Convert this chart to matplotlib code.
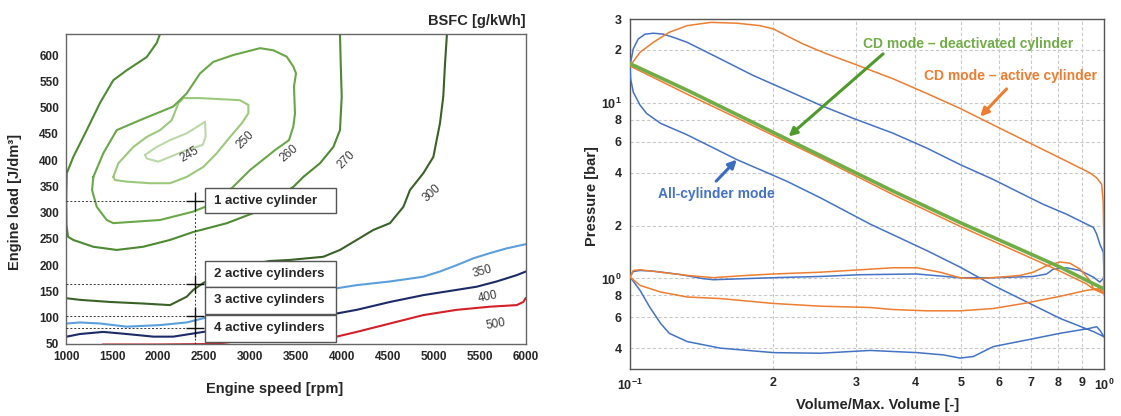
import matplotlib.pyplot as plt
from matplotlib.patches import Rectangle

plt.rcParams['font.family'] = ['Liberation Sans', 'DejaVu Sans']
plt.rcParams['mathtext.fontset'] = 'custom'
plt.rcParams['mathtext.rm'] = 'Liberation Sans'
plt.rcParams['mathtext.bf'] = 'Liberation Sans:bold'

# ---------------- left: BSFC map, iso-lines ----------------
c245_rpm = [1859, 1986, 2130, 2312, 2457, 2511, 2518, 2486, 2312, 2130, 2003, 1877, 1859]
c245_load = [410, 425, 438, 451, 467, 473, 445, 429, 419, 406, 397, 403, 410]

c250_rpm = [1514, 1569, 1732, 1877, 2022, 2149, 2221, 2275, 2457, 2891, 2982, 2982, 2910,
            2783, 2638, 2493, 2312, 2130, 1913, 1660, 1533, 1514]
c250_load = [368, 394, 425, 444, 457, 476, 508, 518, 518, 514, 505, 489, 470,
             444, 413, 387, 368, 356, 356, 359, 362, 368]

c260_rpm = [1297, 1405, 1551, 1804, 1986, 2166, 2312, 2457, 2601, 2819, 3109, 3253, 3398,
            3471, 3500, 3478, 3489, 3471, 3424, 3272, 3000, 2804, 2511, 2384, 2022, 1514,
            1442, 1334, 1283, 1297]
c260_load = [368, 413, 457, 476, 489, 502, 527, 565, 587, 600, 613, 609, 597,
             578, 565, 540, 489, 464, 438, 419, 381, 347, 311, 302, 286, 280,
             286, 311, 343, 368]

c270_rpm = [2022, 1986, 1877, 1660, 1514, 1370, 1225, 1079, 1008, 1002, 1005, 1022, 1079,
            1297, 1551, 1837, 2130, 2380, 2750, 3033, 3250, 3471, 3580, 3761, 3906,
            3978, 3997, 3986, 3978]
c270_load = [640, 623, 596, 571, 552, 509, 457, 406, 375, 324, 276, 254, 248,
             235, 229, 235, 248, 263, 280, 299, 325, 349, 368, 394, 425,
             457, 521, 585, 640]

c300_rpm = [5141, 5120, 5101, 5065, 4993, 4884, 4739, 4667, 4522, 4340, 4160, 3978, 3797,
            3435, 3217, 2800, 2492, 2384, 2312, 2130, 1840, 1478, 1152, 1008]
c300_load = [640, 584, 521, 470, 406, 375, 343, 311, 280, 267, 248, 229, 216,
             210, 208, 195, 166, 153, 140, 124, 127, 130, 134, 137]

c350_rpm = [1008, 1152, 1370, 1660, 2022, 2312, 2493, 3200, 3942, 4160, 4522, 4884, 5065,
            5247, 5427, 5609, 5790, 6000]
c350_load = [89, 91, 89, 83, 86, 91, 99, 128, 156, 162, 169, 178, 188,
             200, 213, 223, 232, 240]

c400_rpm = [1008, 1152, 1405, 1660, 1949, 2166, 2384, 2493, 3200, 3942, 4160, 4522, 4884,
            5247, 5464, 5681, 5899, 6000]
c400_load = [64, 69, 73, 69, 64, 64, 70, 73, 92, 108, 115, 130, 143,
             153, 159, 169, 181, 188]

c500_rpm = [1400, 2000, 2600, 2800, 3000, 3500, 3942, 4160, 4522, 4884, 5247, 5609, 5899,
            5971, 6000]
c500_load = [49, 49, 50, 54, 57, 60, 64, 73, 89, 105, 115, 121, 124, 130, 138]

iso_values = ['245', '250', '260', '270', '300', '350', '400', '500']
iso_label_rpm = [2337, 2946, 3424, 4044, 4978, 5522, 5587, 5674]
iso_label_load = [410, 438, 413, 400, 337, 187, 139, 88]
iso_label_rot = [30, 45, 40, 45, 42, 15, 12, 10]

op_speed = 2400
op_loads = [322, 165, 104, 80]
op_names = ['1 active cylinder', '2 active cylinders', '3 active cylinders', '4 active cylinders']
op_box_bottom = [300, 159, 108, 54]
op_box_top = [346, 207, 159, 105]

speed_ticks = list(range(1000, 6001, 500))
load_ticks = list(range(50, 601, 50))

# ---------------- right: p-V diagram ----------------
allcyl_vol = [1.0, 0.95, 0.808, 0.687, 0.584, 0.497, 0.423, 0.321, 0.252, 0.214, 0.168, 0.132,
              0.116, 0.1084, 0.105, 0.1016, 0.1003, 0.1, 0.1016, 0.1041, 0.1076, 0.112, 0.1176,
              0.1234, 0.132, 0.155, 0.182, 0.214, 0.252, 0.296, 0.359, 0.423, 0.497, 0.584,
              0.687, 0.745, 0.834, 0.95, 0.965, 0.98, 0.997, 1.0,
              0.997, 0.98, 0.95, 0.89, 0.834, 0.782, 0.757, 0.709, 0.584, 0.497, 0.403, 0.306,
              0.252, 0.201, 0.15, 0.143, 0.1275, 0.112, 0.105, 0.1016, 0.1,
              0.105, 0.110, 0.116, 0.121, 0.132, 0.155, 0.201, 0.252, 0.321, 0.403, 0.458,
              0.497, 0.530, 0.584, 0.687, 0.808, 0.934, 0.965, 0.98, 1.0]
allcyl_p = [0.466, 0.498, 0.592, 0.735, 0.913, 1.16, 1.44, 2.04, 2.88, 3.58, 4.75, 6.57,
            7.64, 8.70, 9.7, 11.5, 13.7, 16.3, 20.3, 23.1, 24.6, 24.9, 24.6,
            23.6, 22.1, 17.8, 14.3, 11.8, 9.70, 8.15, 6.71, 5.52, 4.45, 3.66,
            2.94, 2.64, 2.32, 1.95, 1.79, 1.57, 1.41, 1.06,
            1.0, 0.953, 1.017, 1.11, 1.15, 1.13, 1.06, 1.026, 1.009, 1.009, 1.06, 1.05,
            1.026, 1.01, 0.983, 0.996, 1.053, 1.1, 1.11, 1.095, 1.02,
            0.855, 0.688, 0.555, 0.487, 0.437, 0.401, 0.378, 0.375, 0.389, 0.378, 0.367,
            0.352, 0.359, 0.409, 0.446, 0.487, 0.520, 0.531, 0.508, 0.466]

active_vol = [0.997, 0.95, 0.919, 0.808, 0.687, 0.497, 0.359, 0.252, 0.182, 0.132, 0.1,
              0.105, 0.112, 0.121, 0.132, 0.148, 0.168, 0.188, 0.201, 0.214, 0.232, 0.260,
              0.296, 0.359, 0.423, 0.497, 0.584, 0.687, 0.808, 0.934, 0.965, 0.989, 0.996,
              1.0, 1.0, 0.997,
              0.95, 0.934, 0.89, 0.848, 0.808, 0.757, 0.709, 0.665, 0.603, 0.539, 0.497,
              0.451, 0.403, 0.359, 0.306, 0.252, 0.201, 0.176, 0.15, 0.132, 0.116, 0.105,
              0.1016, 0.1,
              0.105, 0.116, 0.132, 0.155, 0.201, 0.252, 0.321, 0.359, 0.423, 0.497, 0.584,
              0.687, 0.808, 0.919, 0.98, 0.997]
active_p = [0.82, 0.87, 0.93, 1.10, 1.34, 1.98, 3.00, 4.85, 7.40, 11.2, 16.2,
            19.4, 22.1, 25.2, 27.5, 28.7, 28.4, 27.5, 26.3, 24.1, 21.6, 19.0,
            16.7, 13.7, 11.3, 9.29, 7.48, 6.02, 4.85, 3.99, 3.74, 3.43, 2.76,
            1.64, 1.11, 0.837,
            0.875, 0.974, 1.13, 1.22, 1.24, 1.18, 1.085, 1.04, 1.017, 0.996, 1.009,
            1.085, 1.15, 1.15, 1.12, 1.085, 1.06, 1.04, 1.01, 1.04, 1.085, 1.12,
            1.11, 1.017,
            0.913, 0.837, 0.784, 0.768, 0.72, 0.695, 0.683, 0.665, 0.654, 0.654, 0.674,
            0.725, 0.791, 0.855, 0.875, 0.82]

deact_vol = [0.1, 0.132, 0.359, 0.497, 0.687, 0.808, 0.95, 0.997]
deact_p = [16.7, 11.8, 3.14, 2.08, 1.41, 1.16, 0.933, 0.875]

vol_ticks = [0.1, 0.2, 0.3, 0.4, 0.5, 0.6, 0.7, 0.8, 0.9, 1.0]
vol_labels = [r'$\mathbf{10^{-1}}$', '2', '3', '4', '5', '6', '7', '8', '9', r'$\mathbf{10^{0}}$']
p_ticks = [0.4, 0.6, 0.8, 1, 2, 4, 6, 8, 10, 20, 30]
p_labels = ['4', '6', '8', r'$\mathbf{10^{0}}$', '2', '4', '6', '8', r'$\mathbf{10^{1}}$', '2', '3']

BLUE = '#4472c4'
ORANGE = '#ed7d31'
GREEN = '#70ad47'
TXT = '#262626'

fig = plt.figure(figsize=(11.21, 4.16), dpi=100)

# ======== left panel ========
ax = fig.add_axes([0.0589, 0.1731, 0.4103, 0.7452])
iso_sets = [
    (c245_rpm, c245_load, '#bcd8a8'),
    (c250_rpm, c250_load, '#9cc87c'),
    (c260_rpm, c260_load, '#6aa748'),
    (c270_rpm, c270_load, '#4d8a32'),
    (c300_rpm, c300_load, '#3a6228'),
    (c350_rpm, c350_load, '#5b9fdc'),
    (c400_rpm, c400_load, '#1c2a66'),
    (c500_rpm, c500_load, '#d42028'),
]
for xs, ys, col in iso_sets:
    ax.plot(xs, ys, color=col, lw=1.5, solid_capstyle='round', zorder=2)

for txt, x, y, r in zip(iso_values, iso_label_rpm, iso_label_load, iso_label_rot):
    ax.text(x, y, txt, rotation=r, ha='center', va='center', fontsize=8.5, color='#3a3a3a',
            zorder=3)

# operating points
ax.plot([op_speed, op_speed], [50, op_loads[0]], ls=(0, (2, 2)), color='#333333', lw=0.7, zorder=3)
for ld in op_loads:
    ax.plot([1000, op_speed], [ld, ld], ls=(0, (2, 2)), color='#333333', lw=0.7, zorder=3)
ax.plot([op_speed] * len(op_loads), op_loads, ls='none', marker='+', ms=13, mew=1.0,
        color='#111111', zorder=4)

for name, b, t in zip(op_names, op_box_bottom, op_box_top):
    ax.add_patch(Rectangle((2515, b), 1420, t - b, facecolor='white', edgecolor='#555555',
                           lw=1.0, zorder=5))
    ax.text(2610, (b + t) / 2, name, ha='left', va='center', fontsize=9.5, fontweight='bold',
            color=TXT, zorder=6)

ax.set_xlim(1000, 6000)
ax.set_ylim(50, 640)
ax.set_xticks(speed_ticks)
ax.set_yticks(load_ticks)
ax.tick_params(length=0, labelsize=8.5, pad=5, labelcolor=TXT)
for lab in ax.get_xticklabels() + ax.get_yticklabels():
    lab.set_fontweight('bold')
for s in ax.spines.values():
    s.set_color('#666666')
    s.set_linewidth(1.0)

fig.text(275 / 1121, 1 - 389 / 416, 'Engine speed [rpm]', ha='center', va='center',
         fontsize=10.5, fontweight='bold', color=TXT)
fig.text(15 / 1121, 1 - 202 / 416, 'Engine load [J/dm³]', ha='center', va='center',
         rotation=90, fontsize=10.5, fontweight='bold', color=TXT)
fig.text(526 / 1121, 1 - 21 / 416, 'BSFC [g/kWh]', ha='right', va='center',
         fontsize=10.5, fontweight='bold', color=TXT)

# ======== right panel ========
bx = fig.add_axes([0.562, 0.113, 0.4228, 0.8413])
bx.set_xscale('log')
bx.set_yscale('log')
bx.plot(allcyl_vol, allcyl_p, color=BLUE, lw=1.1, zorder=3)
bx.plot(active_vol, active_p, color=ORANGE, lw=1.1, zorder=3)
bx.plot(deact_vol, deact_p, color=GREEN, lw=2.6, zorder=4)

bx.set_xlim(0.1, 1.0)
bx.set_ylim(0.305, 29)
bx.set_xticks(vol_ticks)
bx.set_xticklabels(vol_labels)
bx.set_yticks(p_ticks)
bx.set_yticklabels(p_labels)
bx.minorticks_off()
bx.tick_params(length=0, labelsize=9, pad=6, labelcolor=TXT)
for lab in bx.get_xticklabels() + bx.get_yticklabels():
    lab.set_fontweight('bold')
bx.grid(True, ls=(0, (3, 2)), color='#c9c9c9', lw=0.8, zorder=0)
for s in bx.spines.values():
    s.set_color('#555555')
    s.set_linewidth(1.0)

bx.annotate('', xy=(0.216, 6.43), xytext=(0.342, 19.0),
            arrowprops=dict(arrowstyle='-|>', color='#4f9a2c', lw=2.2, mutation_scale=12,
                            shrinkA=0, shrinkB=0), zorder=6)
bx.annotate('', xy=(0.548, 8.34), xytext=(0.623, 12.0),
            arrowprops=dict(arrowstyle='-|>', color=ORANGE, lw=2.2, mutation_scale=12,
                            shrinkA=0, shrinkB=0), zorder=6)
bx.annotate('', xy=(0.168, 4.75), xytext=(0.152, 3.58),
            arrowprops=dict(arrowstyle='-|>', color='#3a6cc2', lw=2.2, mutation_scale=12,
                            shrinkA=0, shrinkB=0), zorder=6)
bx.text(0.517, 21.6, 'CD mode – deactivated cylinder', ha='center', va='center',
        fontsize=10, fontweight='bold', color=GREEN, zorder=7)
bx.text(0.634, 14.3, 'CD mode – active cylinder', ha='center', va='center',
        fontsize=10, fontweight='bold', color=ORANGE, zorder=7)
bx.text(0.152, 3.02, 'All-cylinder mode', ha='center', va='center',
        fontsize=10, fontweight='bold', color=BLUE, zorder=7)

fig.text(878 / 1121, 1 - 405 / 416, 'Volume/Max. Volume [-]', ha='center', va='center',
         fontsize=10.5, fontweight='bold', color=TXT)
fig.text(592 / 1121, 1 - 196 / 416, 'Pressure [bar]', ha='center', va='center',
         rotation=90, fontsize=10.5, fontweight='bold', color=TXT)

fig.savefig('out.png', dpi=100)
